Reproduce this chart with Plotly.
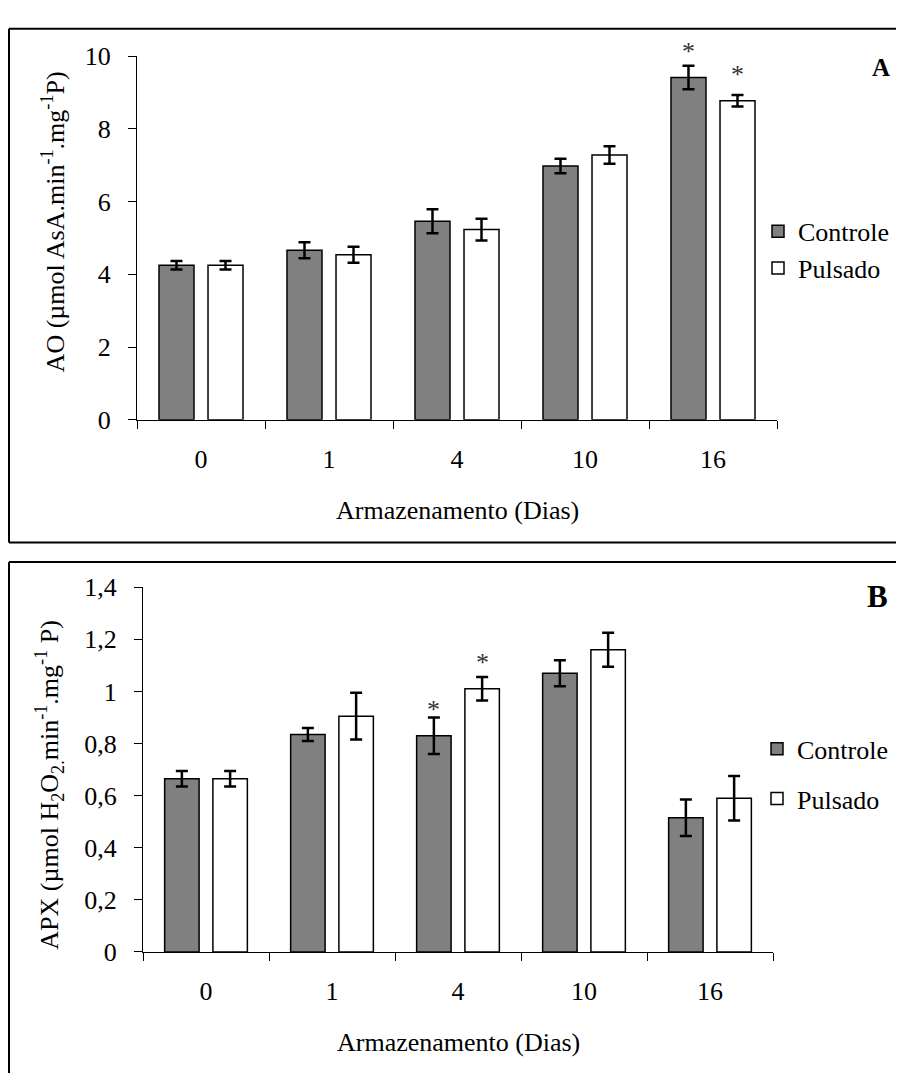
import plotly.graph_objects as go

# page has an 8px body margin: draw in page pixels, convert to figure space
OFF = 8
W, H = 896, 1065
FONT = "Times New Roman, Liberation Serif, Tinos, serif"

# ---------------- data ----------------
days = ["0", "1", "4", "10", "16"]
series_names = ["Controle", "Pulsado"]

ao_controle = [4.25, 4.66, 5.46, 6.98, 9.41]
ao_controle_err = [0.12, 0.22, 0.33, 0.20, 0.32]
ao_pulsado = [4.25, 4.54, 5.23, 7.28, 8.77]
ao_pulsado_err = [0.12, 0.22, 0.30, 0.24, 0.16]
ao_star_controle = ["", "", "", "", "*"]
ao_star_pulsado = ["", "", "", "", "*"]

apx_controle = [0.665, 0.835, 0.83, 1.07, 0.515]
apx_controle_err = [0.03, 0.025, 0.07, 0.05, 0.07]
apx_pulsado = [0.665, 0.905, 1.01, 1.16, 0.59]
apx_pulsado_err = [0.03, 0.09, 0.045, 0.065, 0.085]
apx_star_controle = ["", "", "*", "", ""]
apx_star_pulsado = ["", "", "*", "", ""]

ao_ticks = [0, 2, 4, 6, 8, 10]
ao_ticktext = ["0", "2", "4", "6", "8", "10"]
apx_ticks = [0, 0.2, 0.4, 0.6, 0.8, 1.0, 1.2, 1.4]
apx_ticktext = ["0", "0,2", "0,4", "0,6", "0,8", "1", "1,2", "1,4"]

xlabel = "Armazenamento (Dias)"
ao_ylabel = "AO (µmol AsA.min<sup>-1</sup>.mg<sup>-1</sup>P)"
apx_ylabel = "APX (µmol H<sub>2</sub>O<sub>2.</sub>min<sup>-1</sup>.mg<sup>-1</sup> P)"

# ---------------- layout geometry (page pixels) ----------------
def fx(px):
    return (px - OFF) / W

def fy(py):
    return 1 - (py - OFF) / H

BARGAP = 0.234
BARGROUPGAP = 0.286
A_x = (137, 777)
A_y = (43, 417)
B_x = (143, 773)
B_y = (589, 964)

GREY = "#808080"
fig = go.Figure()

def add_bars(vals_c, err_c, vals_p, err_p, xa, ya, legend):
    grp = legend == "legend2"
    fig.add_trace(go.Bar(
        x=days, y=vals_c, name=series_names[0], xaxis=xa, yaxis=ya,
        marker=dict(color=GREY, line=dict(color="black", width=1.5)),
        error_y=dict(type="data", array=err_c, color="black", thickness=2.5, width=6),
        legend=legend, legendgroup=("c" if grp else None),
    ))
    fig.add_trace(go.Bar(
        x=days, y=vals_p, name=series_names[1], xaxis=xa, yaxis=ya,
        marker=dict(color="white", line=dict(color="black", width=1.5)),
        error_y=dict(type="data", array=err_p, color="black", thickness=2.5, width=6),
        legend=legend, legendgroup=("p" if grp else None),
    ))

add_bars(ao_controle, ao_controle_err, ao_pulsado, ao_pulsado_err, "x", "y", "legend")
add_bars(apx_controle, apx_controle_err, apx_pulsado, apx_pulsado_err, "x2", "y2", "legend2")

axis_font = dict(family=FONT, size=26, color="black")

xcommon = dict(type="category", categoryorder="array", categoryarray=days,
               range=[-0.5, len(days) - 0.5],
               showline=True, linecolor="black", linewidth=1,
               ticks="outside", ticklen=8, tickcolor="black", tickson="boundaries",
               tickfont=axis_font, showgrid=False, zeroline=False,
               ticklabelstandoff=16, fixedrange=True)
ycommon = dict(showline=True, linecolor="black", linewidth=1, ticks="outside",
               ticklen=8, tickcolor="black", tickfont=axis_font, showgrid=False,
               zeroline=False, ticklabelstandoff=12, fixedrange=True)

annotations = []

def stars(vals, marks, xa, ya, shift):
    for i, (v, m) in enumerate(zip(vals, marks)):
        if m:
            annotations.append(dict(x=i, y=v, xref=xa, yref=ya, text=m, showarrow=False,
                                    xshift=shift, yshift=26, yanchor="middle",
                                    font=dict(family=FONT, size=26, color="#333333")))

offA = (1 - BARGAP) * (A_x[1] - A_x[0]) / len(days) / 4
offB = (1 - BARGAP) * (B_x[1] - B_x[0]) / len(days) / 4
stars(ao_controle, ao_star_controle, "x", "y", -offA)
stars(ao_pulsado, ao_star_pulsado, "x", "y", offA)
stars(apx_controle, apx_star_controle, "x2", "y2", -offB)
stars(apx_pulsado, apx_star_pulsado, "x2", "y2", offB)

annotations += [
    dict(x=fx(53), y=fy(214), xref="paper", yref="paper", text=ao_ylabel, textangle=-90,
         showarrow=False, xanchor="center", yanchor="middle", font=axis_font),
    dict(x=fx(49), y=fy(792), xref="paper", yref="paper", text=apx_ylabel, textangle=-90,
         showarrow=False, xanchor="center", yanchor="middle", font=axis_font),
    dict(x=fx(457), y=fy(510), xref="paper", yref="paper", text=xlabel,
         showarrow=False, xanchor="center", yanchor="middle", font=axis_font),
    dict(x=fx(458), y=fy(1057), xref="paper", yref="paper", text=xlabel,
         showarrow=False, xanchor="center", yanchor="middle", font=axis_font),
    dict(x=fx(881), y=fy(55), xref="paper", yref="paper", text="<b>A</b>",
         showarrow=False, xanchor="center", yanchor="middle",
         font=dict(family=FONT, size=25, color="black")),
    dict(x=fx(877), y=fy(599), xref="paper", yref="paper", text="<b>B</b>",
         showarrow=False, xanchor="center", yanchor="middle",
         font=dict(family=FONT, size=31, color="black")),
]

shapes = [
    dict(type="line", xref="paper", yref="paper", x0=fx(9), x1=1.05, y0=fy(15), y1=fy(15), line=dict(color="black", width=2)),
    dict(type="line", xref="paper", yref="paper", x0=fx(9), x1=1.05, y0=fy(543), y1=fy(543), line=dict(color="black", width=2)),
    dict(type="line", xref="paper", yref="paper", x0=fx(9), x1=fx(9), y0=fy(15), y1=fy(543), line=dict(color="black", width=2)),
    dict(type="line", xref="paper", yref="paper", x0=fx(9), x1=1.05, y0=fy(563), y1=fy(563), line=dict(color="black", width=2)),
    dict(type="line", xref="paper", yref="paper", x0=fx(9), x1=fx(9), y0=fy(563), y1=-0.05, line=dict(color="black", width=2)),
]

legend_common = dict(xanchor="left", yanchor="top", bgcolor="rgba(0,0,0,0)",
                     font=dict(family=FONT, size=26, color="black"), borderwidth=0)

fig.update_layout(
    width=W, height=H, margin=dict(l=0, r=0, t=0, b=0),
    paper_bgcolor="white", plot_bgcolor="white",
    barmode="group", bargap=BARGAP, bargroupgap=BARGROUPGAP,
    xaxis=dict(domain=[fx(A_x[0]), fx(A_x[1])], anchor="y", **xcommon),
    yaxis=dict(domain=[fy(A_y[1]), fy(A_y[0])], anchor="x", range=[0, 10],
               tickvals=ao_ticks, ticktext=ao_ticktext, **ycommon),
    xaxis2=dict(domain=[fx(B_x[0]), fx(B_x[1])], anchor="y2", **xcommon),
    yaxis2=dict(domain=[fy(B_y[1]), fy(B_y[0])], anchor="x2", range=[0, 1.4],
                tickvals=apx_ticks, ticktext=apx_ticktext, **ycommon),
    legend=dict(x=fx(758), y=fy(199), tracegroupgap=0, **legend_common),
    legend2=dict(x=fx(757), y=fy(731), traceorder="grouped", tracegroupgap=13, **legend_common),
    annotations=annotations, shapes=shapes, showlegend=True,
)

fig.write_html("out.html")
